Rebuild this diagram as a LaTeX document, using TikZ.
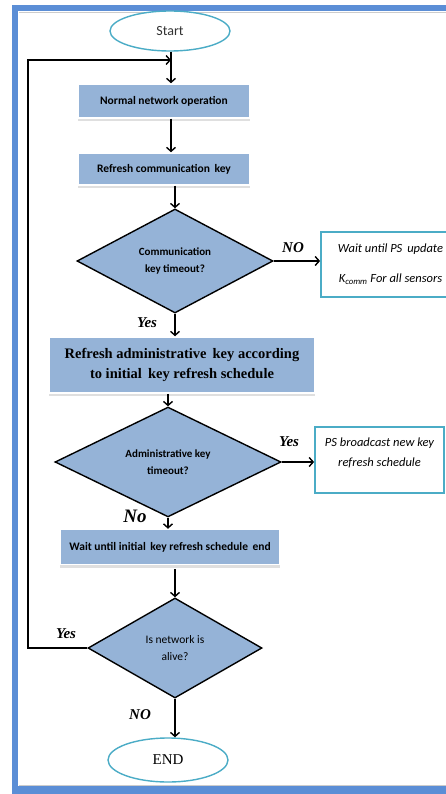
\documentclass[tikz,border=0pt]{standalone}
\usepackage{fontspec}
\setmainfont{Liberation Serif}
\newfontfamily\calib{Carlito}
\usetikzlibrary{shapes.geometric,arrows.meta,shadows}
\definecolor{framebl}{HTML}{5B8ED6}
\definecolor{boxbl}{HTML}{95B3D7}
\definecolor{termcy}{HTML}{4BACC6}
\tikzset{
  x=1pt, y=-1pt,
  arr/.style={line width=1.4pt, -{Straight Barb[length=4pt,width=9pt]}},
  procbox/.style={rectangle, fill=boxbl, draw=white, line width=1.5pt,
    drop shadow={shadow xshift=0pt, shadow yshift=-3pt, fill=black!25, opacity=0.5},
    inner sep=2pt, align=center, font=\calib\bfseries\fontsize{11.5}{14}\selectfont},
  decide/.style={diamond, fill=boxbl, draw=black, line width=1.4pt, inner sep=0pt,
    align=center, font=\calib\bfseries\fontsize{11}{17}\selectfont},
  term/.style={ellipse, draw=termcy, line width=1.4pt, fill=white, inner sep=0pt},
  notebox/.style={rectangle, draw=termcy, line width=1.8pt, fill=white, inner sep=0pt,
    align=center, font=\calib\itshape\fontsize{12.5}{15}\selectfont},
  branch/.style={font=\bfseries\itshape\fontsize{15}{15}\selectfont},
}
\begin{document}
\begin{tikzpicture}
\useasboundingbox (0,0) rectangle (446,794);
% page frame
\fill[framebl] (12,5) rectangle (446,11);
\fill[framebl] (12,5) rectangle (18,794);
\fill[framebl] (12,786) rectangle (446,794);
\draw[black!20, line width=0.8pt] (19,12) -- (446,12);
\draw[black!20, line width=0.8pt] (19,785) -- (446,785);

% terminals
\node[term, minimum width=120, minimum height=40] (start) at (170,31)
  {\calib\fontsize{14}{14}\selectfont\color{black!80}Start};
\node[term, minimum width=120, minimum height=44] (end) at (168,760)
  {\fontsize{15}{15}\selectfont END};

% process steps
\node[procbox, minimum width=172, minimum height=34] (normal) at (164,101)
  {Normal network operation};
\node[procbox, minimum width=172, minimum height=32] (refresh) at (164,169)
  {Refresh communication\, key};
\node[procbox, minimum width=266, minimum height=56,
  font=\bfseries\fontsize{14.5}{20}\selectfont] (admin) at (182,365)
  {Refresh administrative\, key according\\to initial\, key refresh schedule};
\node[procbox, minimum width=220, minimum height=35] (waitend) at (170,547)
  {Wait until initial\, key refresh schedule\, end};

% decisions
\node[decide, minimum width=196, minimum height=104] (d1) at (175,261)
  {Communication\\key timeout?};
\node[decide, minimum width=226, minimum height=92] (d2) at (168,462)
  {Administrative key\\timeout?};
\node[decide, minimum width=174, minimum height=100,
  font=\calib\fontsize{11.5}{17}\selectfont] (d3) at (175,648)
  {Is network is\\alive?};

% side notes
\node[notebox, minimum width=139, minimum height=65] (waitps) at (390.5,264.5)
  {Wait until PS\, update\\[15pt] K\textsubscript{comm} For all sensors};
\node[notebox, minimum width=129, minimum height=66,
  label={[yshift=7pt, align=center, font=\calib\itshape\fontsize{12.5}{20}\selectfont]center:PS broadcast new key\\refresh schedule}]
  (psb) at (379.5,460) {};

% connectors
\coordinate (join) at (171,60);
\coordinate (loopc) at (28,60);
\draw[arr] (start.south -| join) -- (normal.north -| join);
\draw[arr] (normal.south -| join) -- (refresh.north -| join);
\draw[arr] (refresh.south -| d1.north) -- (d1.north);
\draw[arr] (d1.east) -- (d1.east -| waitps.west);
\draw[arr] (d1.south) -- (d1.south |- admin.north);
\draw[arr] (admin.south -| d2.north) -- (d2.north);
\draw[arr] (d2.east) -- (d2.east -| psb.west);
\draw[arr] (d2.south) -- (d2.south |- waitend.north);
\draw[arr] (waitend.south -| d3.north) ++(0,4) -- (d3.north);
\draw[arr] (d3.south) -- (d3.south |- end.north);
\draw[arr] (d3.west) -| (loopc) -- (join);

% branch labels
\node[branch] (no1) at (293,248) {NO};
\node[branch] (yes1) at (147,323) {Yes};
\node[branch] (yes2) at (289,442) {Yes};
\node[branch, font=\bfseries\itshape\fontsize{19}{19}\selectfont] (no2) at (135,516) {No};
\node[branch] (yes3) at (66,634) {Yes};
\node[branch] (no3) at (140,715) {NO};
\end{tikzpicture}
\end{document}
